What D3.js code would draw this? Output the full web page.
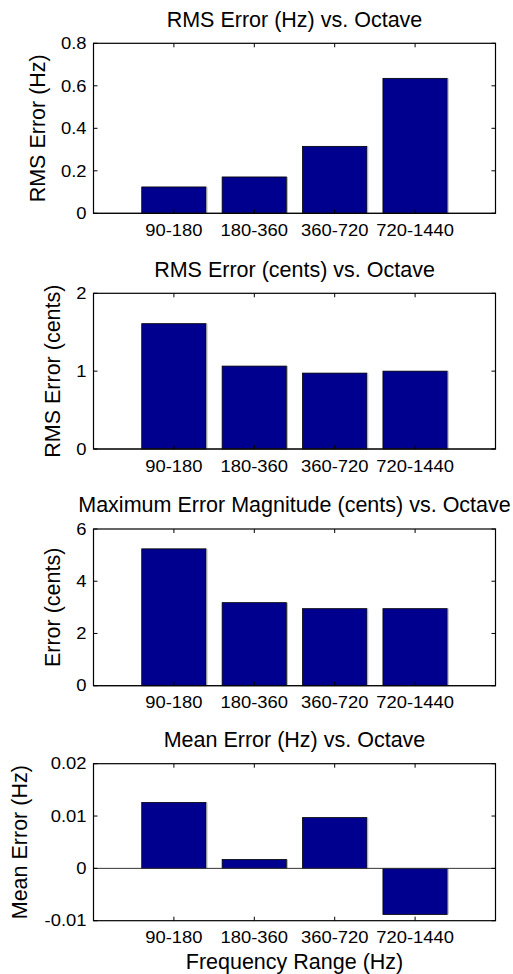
<!DOCTYPE html>
<html>
<head>
<meta charset="utf-8">
<script src="https://cdn.jsdelivr.net/npm/d3@7/dist/d3.min.js"></script>
<style>
body { margin: 0; background: #fff; }
svg { display: block; }
text { font-family: "Liberation Sans", Arial, Helvetica, sans-serif; fill: #000; }
</style>
</head>
<body>
<svg width="513" height="974"></svg>
<script>
// data
var categories = ["90-180", "180-360", "360-720", "720-1440"];
var rmsHz = [0.124, 0.171, 0.315, 0.635];
var rmsCents = [1.61, 1.065, 0.975, 1.0];
var maxCents = [5.24, 3.18, 2.95, 2.95];
var meanHz = [0.0126, 0.0017, 0.0097, -0.0088];

var titles = ["RMS Error (Hz) vs. Octave", "RMS Error (cents) vs. Octave",
		"Maximum Error Magnitude (cents) vs. Octave", "Mean Error (Hz) vs. Octave"];
var yLabels = ["RMS Error (Hz)", "RMS Error (cents)", "Error (cents)", "Mean Error (Hz)"];
var yDomains = [[0, 0.8], [0, 2], [0, 6], [-0.01, 0.02]];
var yTicks = [[0, 0.2, 0.4, 0.6, 0.8], [0, 1, 2], [0, 2, 4, 6], [-0.01, 0, 0.01, 0.02]];
var yTickLabels = [["0", "0.2", "0.4", "0.6", "0.8"], ["0", "1", "2"], ["0", "2", "4", "6"],
		["-0.01", "0", "0.01", "0.02"]];
var xLabel = "Frequency Range (Hz)";

var series = [rmsHz, rmsCents, maxCents, meanHz];

// layout
var left = 93.5, right = 495.5;
var tops = [43.3, 293.3, 529, 763.7];
var bottoms = [213.3, 449, 685.7, 920.7];
var yLabelX = [44.5, 60, 60, 26.7];
var barColor = "#00008f";
var tickLen = 4;
var tickStretch = 1.15;

var svg = d3.select("svg");
var xScale = d3.scaleLinear().domain([0, 5]).range([left, right]);
var xPos = d3.range(1, categories.length + 1);

series.forEach(function(values, p) {
	var top = tops[p], bottom = bottoms[p];
	var yScale = d3.scaleLinear().domain(yDomains[p]).range([bottom, top]);
	var g = svg.append("g");

	// bars
	var bars = g.selectAll("g.bar").data(values).enter().append("g").attr("class", "bar");
	bars.append("rect")
		.attr("x", function(d, i) { return xScale(xPos[i] - 0.4); })
		.attr("width", xScale(0.8) - xScale(0))
		.attr("y", function(d) { return yScale(Math.max(0, d)); })
		.attr("height", function(d) { return Math.abs(yScale(d) - yScale(0)); })
		.attr("fill", barColor)
		.attr("stroke", "#000")
		.attr("stroke-width", 0.8);
	// light shadow on the right edge, as in the original
	bars.append("line")
		.attr("x1", function(d, i) { return xScale(xPos[i] + 0.4) + 0.9; })
		.attr("x2", function(d, i) { return xScale(xPos[i] + 0.4) + 0.9; })
		.attr("y1", function(d) { return yScale(Math.max(0, d)); })
		.attr("y2", function(d) { return yScale(Math.min(0, d)); })
		.attr("stroke", "#b0b0b0").attr("stroke-width", 1);

	// baseline at zero
	g.append("line")
		.attr("x1", left).attr("x2", right)
		.attr("y1", yScale(0)).attr("y2", yScale(0))
		.attr("stroke", "#333").attr("stroke-width", 1);

	// box
	g.append("rect")
		.attr("x", left).attr("y", top)
		.attr("width", right - left).attr("height", bottom - top)
		.attr("fill", "none").attr("stroke", "#000").attr("stroke-width", 1.2);

	// y ticks (left and mirrored on right, inward)
	yTicks[p].forEach(function(t, k) {
		var y = yScale(t);
		g.append("line").attr("x1", left).attr("x2", left + tickLen)
			.attr("y1", y).attr("y2", y).attr("stroke", "#000");
		g.append("line").attr("x1", right).attr("x2", right - tickLen)
			.attr("y1", y).attr("y2", y).attr("stroke", "#000");
		g.append("text")
			.attr("transform", "translate(" + (left - 7) + "," + y + ") scale(" + tickStretch + ",1)")
			.attr("text-anchor", "end")
			.attr("dy", "0.36em")
			.style("font-size", "16px")
			.text(yTickLabels[p][k]);
	});

	// x ticks (bottom and top, inward)
	xPos.forEach(function(v, i) {
		var x = xScale(v);
		g.append("line").attr("x1", x).attr("x2", x)
			.attr("y1", bottom).attr("y2", bottom - tickLen).attr("stroke", "#000");
		g.append("line").attr("x1", x).attr("x2", x)
			.attr("y1", top).attr("y2", top + tickLen).attr("stroke", "#000");
		g.append("text")
			.attr("transform", "translate(" + x + "," + (bottom + 22.5) + ") scale(" + tickStretch + ",1)")
			.attr("text-anchor", "middle")
			.style("font-size", "16px")
			.text(categories[i]);
	});

	// title
	g.append("text")
		.attr("x", (left + right) / 2).attr("y", top - 16.8)
		.attr("text-anchor", "middle")
		.style("font-size", "21.5px")
		.text(titles[p]);

	// y label
	g.append("text")
		.attr("transform", "translate(" + yLabelX[p] + "," + (top + bottom) / 2 + ") rotate(-90)")
		.attr("text-anchor", "middle")
		.style("font-size", "21.5px")
		.text(yLabels[p]);
});

svg.append("text")
	.attr("x", (left + right) / 2).attr("y", 969)
	.attr("text-anchor", "middle")
	.style("font-size", "21.5px")
	.text(xLabel);
</script>
</body>
</html>
